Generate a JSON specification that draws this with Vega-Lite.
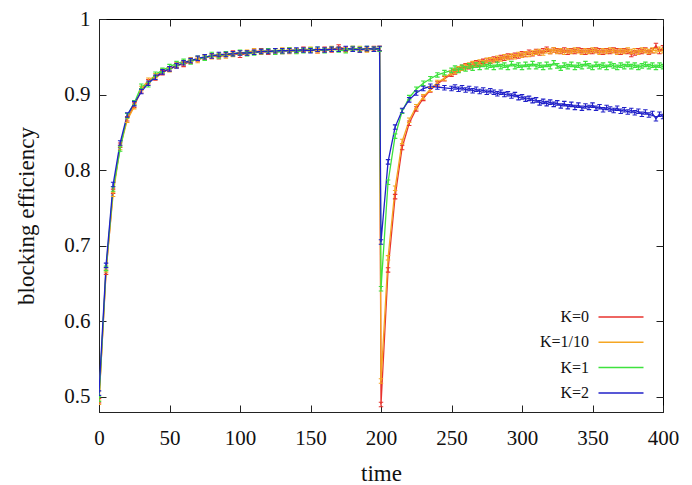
{
  "$schema": "https://vega.github.io/schema/vega-lite/v6.json",
  "width": 564,
  "height": 393,
  "autosize": "none",
  "padding": {"left": 99, "top": 19, "right": 29, "bottom": 73},
  "background": "white",
  "config": {
    "view": {"stroke": "black", "strokeWidth": 1},
    "axis": {
      "labelFont": "Liberation Serif",
      "titleFont": "Liberation Serif",
      "labelFontSize": 21,
      "titleFontSize": 23,
      "titleFontWeight": "normal",
      "labelColor": "#111",
      "titleColor": "#111",
      "domainColor": "#222",
      "tickColor": "#222",
      "tickSize": -7,
      "grid": false
    }
  },
  "data": {
    "values": [
      {"t": 0, "K=0": 0.495, "K=1/10": 0.493, "K=1": 0.497, "K=2": 0.505},
      {"t": 5, "K=0": 0.665, "K=1/10": 0.668, "K=1": 0.670, "K=2": 0.674},
      {"t": 10, "K=0": 0.772, "K=1/10": 0.768, "K=1": 0.775, "K=2": 0.781},
      {"t": 15, "K=0": 0.833, "K=1/10": 0.830, "K=1": 0.828, "K=2": 0.836},
      {"t": 20, "K=0": 0.868, "K=1/10": 0.866, "K=1": 0.872, "K=2": 0.873},
      {"t": 25, "K=0": 0.886, "K=1/10": 0.884, "K=1": 0.889, "K=2": 0.888},
      {"t": 30, "K=0": 0.905, "K=1/10": 0.908, "K=1": 0.911, "K=2": 0.904},
      {"t": 35, "K=0": 0.917, "K=1/10": 0.919, "K=1": 0.913, "K=2": 0.915},
      {"t": 40, "K=0": 0.922, "K=1/10": 0.925, "K=1": 0.927, "K=2": 0.923},
      {"t": 45, "K=0": 0.929, "K=1/10": 0.931, "K=1": 0.932, "K=2": 0.930},
      {"t": 50, "K=0": 0.934, "K=1/10": 0.933, "K=1": 0.937, "K=2": 0.934},
      {"t": 55, "K=0": 0.939, "K=1/10": 0.938, "K=1": 0.941, "K=2": 0.938},
      {"t": 60, "K=0": 0.940, "K=1/10": 0.942, "K=1": 0.944, "K=2": 0.942},
      {"t": 65, "K=0": 0.944, "K=1/10": 0.946, "K=1": 0.943, "K=2": 0.945},
      {"t": 70, "K=0": 0.947, "K=1/10": 0.945, "K=1": 0.948, "K=2": 0.948},
      {"t": 75, "K=0": 0.949, "K=1/10": 0.950, "K=1": 0.948, "K=2": 0.950},
      {"t": 80, "K=0": 0.951, "K=1/10": 0.950, "K=1": 0.953, "K=2": 0.951},
      {"t": 85, "K=0": 0.950, "K=1/10": 0.952, "K=1": 0.951, "K=2": 0.953},
      {"t": 90, "K=0": 0.953, "K=1/10": 0.951, "K=1": 0.954, "K=2": 0.953},
      {"t": 95, "K=0": 0.955, "K=1/10": 0.953, "K=1": 0.954, "K=2": 0.954},
      {"t": 100, "K=0": 0.952, "K=1/10": 0.955, "K=1": 0.956, "K=2": 0.955},
      {"t": 105, "K=0": 0.955, "K=1/10": 0.956, "K=1": 0.954, "K=2": 0.955},
      {"t": 110, "K=0": 0.956, "K=1/10": 0.958, "K=1": 0.955, "K=2": 0.956},
      {"t": 115, "K=0": 0.958, "K=1/10": 0.956, "K=1": 0.957, "K=2": 0.957},
      {"t": 120, "K=0": 0.956, "K=1/10": 0.957, "K=1": 0.958, "K=2": 0.957},
      {"t": 125, "K=0": 0.958, "K=1/10": 0.958, "K=1": 0.956, "K=2": 0.958},
      {"t": 130, "K=0": 0.957, "K=1/10": 0.959, "K=1": 0.957, "K=2": 0.958},
      {"t": 135, "K=0": 0.959, "K=1/10": 0.957, "K=1": 0.959, "K=2": 0.958},
      {"t": 140, "K=0": 0.958, "K=1/10": 0.958, "K=1": 0.957, "K=2": 0.959},
      {"t": 145, "K=0": 0.960, "K=1/10": 0.959, "K=1": 0.958, "K=2": 0.959},
      {"t": 150, "K=0": 0.959, "K=1/10": 0.960, "K=1": 0.959, "K=2": 0.958},
      {"t": 155, "K=0": 0.958, "K=1/10": 0.958, "K=1": 0.960, "K=2": 0.960},
      {"t": 160, "K=0": 0.960, "K=1/10": 0.959, "K=1": 0.958, "K=2": 0.959},
      {"t": 165, "K=0": 0.959, "K=1/10": 0.961, "K=1": 0.960, "K=2": 0.960},
      {"t": 170, "K=0": 0.963, "K=1/10": 0.960, "K=1": 0.959, "K=2": 0.960},
      {"t": 175, "K=0": 0.960, "K=1/10": 0.959, "K=1": 0.958, "K=2": 0.961},
      {"t": 180, "K=0": 0.961, "K=1/10": 0.960, "K=1": 0.961, "K=2": 0.960},
      {"t": 185, "K=0": 0.959, "K=1/10": 0.961, "K=1": 0.960, "K=2": 0.959},
      {"t": 190, "K=0": 0.960, "K=1/10": 0.959, "K=1": 0.961, "K=2": 0.961},
      {"t": 195, "K=0": 0.961, "K=1/10": 0.960, "K=1": 0.960, "K=2": 0.960},
      {"t": 199, "K=0": 0.961, "K=1/10": 0.961, "K=1": 0.960, "K=2": 0.961},
      {"t": 200, "K=0": 0.490, "K=1/10": 0.521, "K=1": 0.643, "K=2": 0.705},
      {"t": 205, "K=0": 0.668, "K=1/10": 0.684, "K=1": 0.784, "K=2": 0.811},
      {"t": 210, "K=0": 0.765, "K=1/10": 0.776, "K=1": 0.845, "K=2": 0.857},
      {"t": 215, "K=0": 0.830, "K=1/10": 0.838, "K=1": 0.878, "K=2": 0.879},
      {"t": 220, "K=0": 0.862, "K=1/10": 0.866, "K=1": 0.896, "K=2": 0.893},
      {"t": 225, "K=0": 0.881, "K=1/10": 0.884, "K=1": 0.907, "K=2": 0.902},
      {"t": 230, "K=0": 0.895, "K=1/10": 0.897, "K=1": 0.915, "K=2": 0.908},
      {"t": 235, "K=0": 0.906, "K=1/10": 0.907, "K=1": 0.921, "K=2": 0.911},
      {"t": 240, "K=0": 0.914, "K=1/10": 0.916, "K=1": 0.926, "K=2": 0.910},
      {"t": 245, "K=0": 0.921, "K=1/10": 0.922, "K=1": 0.929, "K=2": 0.909},
      {"t": 250, "K=0": 0.927, "K=1/10": 0.929, "K=1": 0.932, "K=2": 0.908},
      {"t": 252.5, "K=0": 0.930, "K=1/10": 0.931, "K=1": 0.935, "K=2": 0.910},
      {"t": 255, "K=0": 0.933, "K=1/10": 0.934, "K=1": 0.932, "K=2": 0.907},
      {"t": 257.5, "K=0": 0.936, "K=1/10": 0.935, "K=1": 0.936, "K=2": 0.909},
      {"t": 260, "K=0": 0.938, "K=1/10": 0.937, "K=1": 0.934, "K=2": 0.906},
      {"t": 262.5, "K=0": 0.937, "K=1/10": 0.939, "K=1": 0.938, "K=2": 0.908},
      {"t": 265, "K=0": 0.940, "K=1/10": 0.941, "K=1": 0.935, "K=2": 0.905},
      {"t": 267.5, "K=0": 0.942, "K=1/10": 0.940, "K=1": 0.939, "K=2": 0.907},
      {"t": 270, "K=0": 0.941, "K=1/10": 0.943, "K=1": 0.936, "K=2": 0.904},
      {"t": 272.5, "K=0": 0.944, "K=1/10": 0.942, "K=1": 0.940, "K=2": 0.906},
      {"t": 275, "K=0": 0.945, "K=1/10": 0.945, "K=1": 0.937, "K=2": 0.903},
      {"t": 277.5, "K=0": 0.944, "K=1/10": 0.946, "K=1": 0.939, "K=2": 0.905},
      {"t": 280, "K=0": 0.947, "K=1/10": 0.945, "K=1": 0.936, "K=2": 0.903},
      {"t": 282.5, "K=0": 0.946, "K=1/10": 0.948, "K=1": 0.940, "K=2": 0.901},
      {"t": 285, "K=0": 0.949, "K=1/10": 0.947, "K=1": 0.937, "K=2": 0.903},
      {"t": 287.5, "K=0": 0.948, "K=1/10": 0.950, "K=1": 0.939, "K=2": 0.900},
      {"t": 290, "K=0": 0.951, "K=1/10": 0.949, "K=1": 0.936, "K=2": 0.901},
      {"t": 292.5, "K=0": 0.950, "K=1/10": 0.951, "K=1": 0.941, "K=2": 0.898},
      {"t": 295, "K=0": 0.952, "K=1/10": 0.950, "K=1": 0.937, "K=2": 0.900},
      {"t": 297.5, "K=0": 0.951, "K=1/10": 0.953, "K=1": 0.939, "K=2": 0.896},
      {"t": 300, "K=0": 0.954, "K=1/10": 0.952, "K=1": 0.936, "K=2": 0.897},
      {"t": 302.5, "K=0": 0.953, "K=1/10": 0.954, "K=1": 0.940, "K=2": 0.894},
      {"t": 305, "K=0": 0.956, "K=1/10": 0.953, "K=1": 0.937, "K=2": 0.895},
      {"t": 307.5, "K=0": 0.954, "K=1/10": 0.955, "K=1": 0.941, "K=2": 0.892},
      {"t": 310, "K=0": 0.957, "K=1/10": 0.956, "K=1": 0.937, "K=2": 0.893},
      {"t": 312.5, "K=0": 0.955, "K=1/10": 0.957, "K=1": 0.939, "K=2": 0.889},
      {"t": 315, "K=0": 0.958, "K=1/10": 0.955, "K=1": 0.936, "K=2": 0.891},
      {"t": 317.5, "K=0": 0.960, "K=1/10": 0.958, "K=1": 0.940, "K=2": 0.888},
      {"t": 320, "K=0": 0.957, "K=1/10": 0.957, "K=1": 0.937, "K=2": 0.890},
      {"t": 322.5, "K=0": 0.959, "K=1/10": 0.959, "K=1": 0.942, "K=2": 0.887},
      {"t": 325, "K=0": 0.958, "K=1/10": 0.957, "K=1": 0.938, "K=2": 0.889},
      {"t": 327.5, "K=0": 0.957, "K=1/10": 0.958, "K=1": 0.935, "K=2": 0.885},
      {"t": 330, "K=0": 0.959, "K=1/10": 0.956, "K=1": 0.939, "K=2": 0.888},
      {"t": 332.5, "K=0": 0.956, "K=1/10": 0.958, "K=1": 0.937, "K=2": 0.884},
      {"t": 335, "K=0": 0.958, "K=1/10": 0.957, "K=1": 0.940, "K=2": 0.887},
      {"t": 337.5, "K=0": 0.957, "K=1/10": 0.959, "K=1": 0.936, "K=2": 0.883},
      {"t": 340, "K=0": 0.959, "K=1/10": 0.958, "K=1": 0.939, "K=2": 0.886},
      {"t": 342.5, "K=0": 0.958, "K=1/10": 0.956, "K=1": 0.937, "K=2": 0.882},
      {"t": 345, "K=0": 0.956, "K=1/10": 0.958, "K=1": 0.941, "K=2": 0.885},
      {"t": 347.5, "K=0": 0.958, "K=1/10": 0.957, "K=1": 0.938, "K=2": 0.883},
      {"t": 350, "K=0": 0.957, "K=1/10": 0.959, "K=1": 0.936, "K=2": 0.886},
      {"t": 352.5, "K=0": 0.959, "K=1/10": 0.958, "K=1": 0.940, "K=2": 0.882},
      {"t": 355, "K=0": 0.958, "K=1/10": 0.956, "K=1": 0.937, "K=2": 0.884},
      {"t": 357.5, "K=0": 0.956, "K=1/10": 0.958, "K=1": 0.939, "K=2": 0.880},
      {"t": 360, "K=0": 0.958, "K=1/10": 0.957, "K=1": 0.936, "K=2": 0.883},
      {"t": 362.5, "K=0": 0.957, "K=1/10": 0.959, "K=1": 0.940, "K=2": 0.881},
      {"t": 365, "K=0": 0.959, "K=1/10": 0.958, "K=1": 0.938, "K=2": 0.879},
      {"t": 367.5, "K=0": 0.958, "K=1/10": 0.956, "K=1": 0.936, "K=2": 0.882},
      {"t": 370, "K=0": 0.956, "K=1/10": 0.958, "K=1": 0.939, "K=2": 0.878},
      {"t": 372.5, "K=0": 0.958, "K=1/10": 0.957, "K=1": 0.937, "K=2": 0.880},
      {"t": 375, "K=0": 0.957, "K=1/10": 0.959, "K=1": 0.940, "K=2": 0.877},
      {"t": 377.5, "K=0": 0.953, "K=1/10": 0.957, "K=1": 0.937, "K=2": 0.879},
      {"t": 380, "K=0": 0.955, "K=1/10": 0.958, "K=1": 0.939, "K=2": 0.876},
      {"t": 382.5, "K=0": 0.958, "K=1/10": 0.956, "K=1": 0.936, "K=2": 0.878},
      {"t": 385, "K=0": 0.957, "K=1/10": 0.959, "K=1": 0.938, "K=2": 0.874},
      {"t": 387.5, "K=0": 0.959, "K=1/10": 0.958, "K=1": 0.940, "K=2": 0.877},
      {"t": 390, "K=0": 0.956, "K=1/10": 0.957, "K=1": 0.937, "K=2": 0.873},
      {"t": 392.5, "K=0": 0.958, "K=1/10": 0.959, "K=1": 0.939, "K=2": 0.875},
      {"t": 395, "K=0": 0.965, "K=1/10": 0.958, "K=1": 0.936, "K=2": 0.868},
      {"t": 397.5, "K=0": 0.957, "K=1/10": 0.960, "K=1": 0.939, "K=2": 0.874},
      {"t": 400, "K=0": 0.962, "K=1/10": 0.958, "K=1": 0.937, "K=2": 0.871}
    ]
  },
  "transform": [
    {"fold": ["K=0", "K=1/10", "K=1", "K=2"], "as": ["K", "v"]}
  ],
  "layer": [
    {
      "mark": {"type": "line", "strokeWidth": 1.3, "clip": true},
      "encoding": {
        "x": {
          "field": "t", "type": "quantitative",
          "scale": {"domain": [0, 400], "nice": false, "zero": false},
          "axis": {"orient": "bottom", "values": [0, 50, 100, 150, 200, 250, 300, 350, 400], "title": "time", "labelPadding": 22, "titlePadding": 14, "labelFlush": false, "labelOverlap": false}
        },
        "y": {
          "field": "v", "type": "quantitative",
          "scale": {"domain": [0.48, 1], "nice": false, "zero": false},
          "axis": {"orient": "left", "values": [0.5, 0.6, 0.7, 0.8, 0.9, 1], "format": ".1~f", "title": "blocking efficiency", "labelPadding": 16, "titlePadding": 25, "labelFlush": false, "labelOverlap": false}
        },
        "color": {
          "field": "K", "type": "nominal",
          "scale": {"domain": ["K=0", "K=1/10", "K=1", "K=2"], "range": ["#e8332e", "#f5a623", "#3ee23e", "#2020c8"]},
          "sort": ["K=0", "K=1/10", "K=1", "K=2"],
          "legend": {
            "orient": "none", "legendX": 494, "legendY": 290,
            "title": null, "symbolType": "M-1,0H17", "symbolSize": 25, "symbolStrokeWidth": 1.5,
            "labelFont": "Liberation Serif", "labelFontSize": 16, "labelColor": "#111",
            "labelAlign": "right", "labelOffset": -20, "rowPadding": 9.3, "padding": 0, "labelLimit": 200
          }
        }
      }
    },
    {
      "mark": {"type": "point", "shape": "M-1,-1H1M0,-1V1M-1,1H1", "filled": false, "size": 20, "strokeWidth": 1.1, "opacity": 1, "clip": true},
      "encoding": {
        "x": {
          "field": "t", "type": "quantitative",
          "axis": {"orient": "top", "values": [0, 50, 100, 150, 200, 250, 300, 350, 400], "labels": false, "title": null, "domain": false}
        },
        "y": {
          "field": "v", "type": "quantitative",
          "axis": {"orient": "right", "values": [0.5, 0.6, 0.7, 0.8, 0.9, 1], "labels": false, "title": null, "domain": false}
        },
        "color": {"field": "K", "type": "nominal", "legend": null}
      }
    }
  ],
  "resolve": {"axis": {"x": "independent", "y": "independent"}}
}
